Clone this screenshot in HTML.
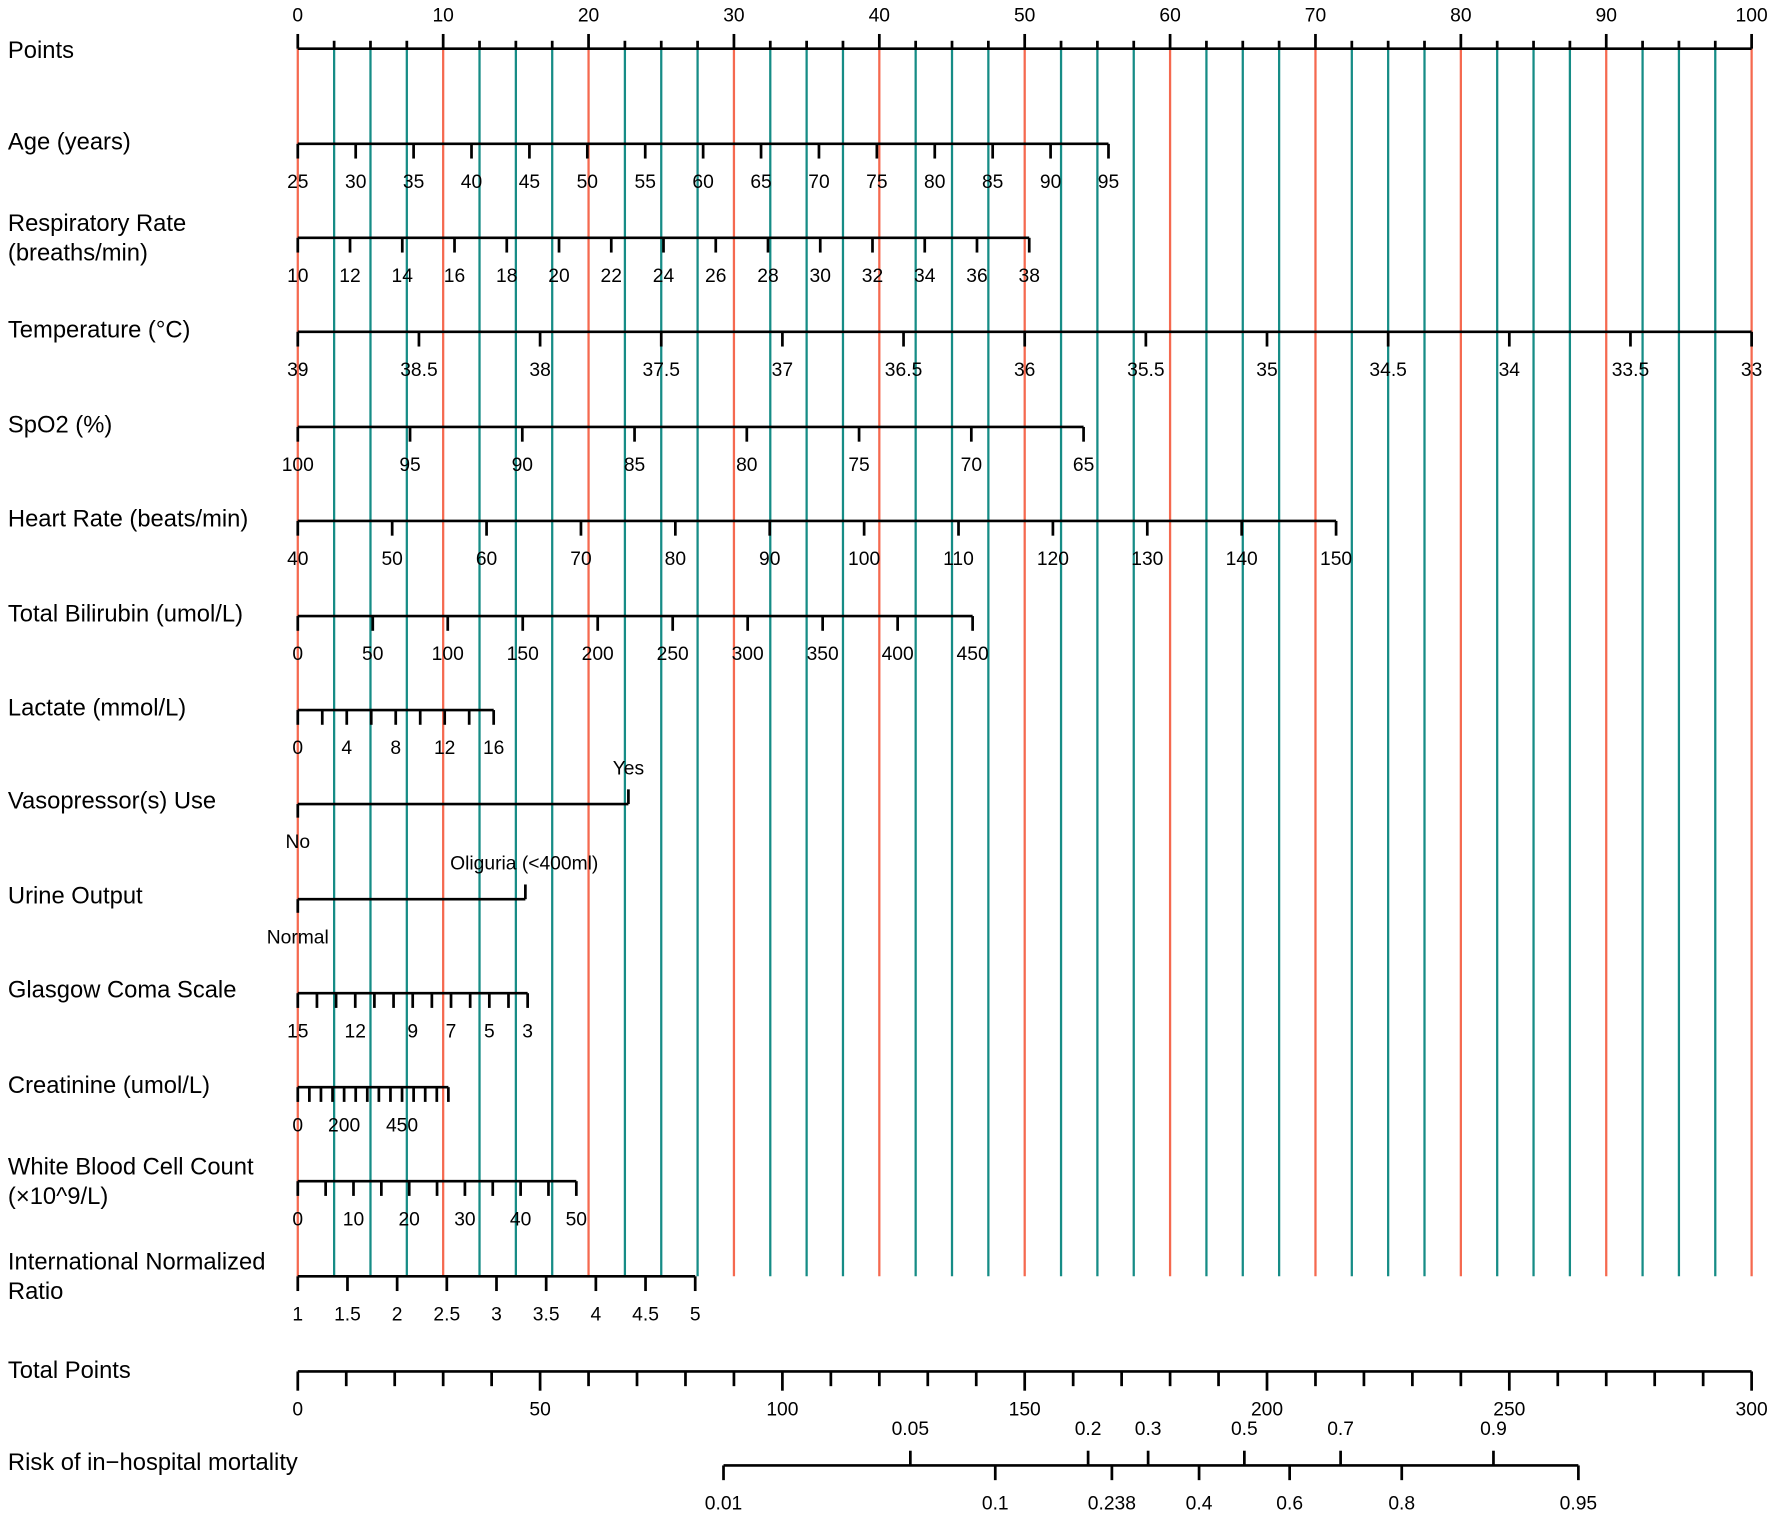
<!DOCTYPE html>
<html><head><meta charset="utf-8"><style>
html,body{margin:0;padding:0;background:#fff;}
svg{display:block;}
text{font-family:"Liberation Sans",Arial,sans-serif;fill:#000;}
</style></head><body>
<svg id="s" width="1772" height="1513" viewBox="0 0 1565 1336" preserveAspectRatio="none" xmlns="http://www.w3.org/2000/svg"></svg>
<script>
var s=document.getElementById('s'),h='';
function L(x1,y1,x2,y2,c,w){h+='<line x1="'+x1+'" y1="'+y1+'" x2="'+x2+'" y2="'+y2+'" stroke="'+(c||'#000')+'" stroke-width="'+(w||2.4)+'"/>';}
function T(x,y,t,sz,anc){h+='<text x="'+x+'" y="'+y+'" font-size="'+(sz||17)+'" text-anchor="'+(anc||'middle')+'">'+t+'</text>';}
var X0=263,X1=1547,PP=(X1-X0)/100;
for(var i=0;i<=40;i++){var x=X0+i*2.5*PP;L(x,43,x,1127,(i%4==0)?'#F5694F':'#168C86',2);}
L(X0,43,X1,43);
for(var i=0;i<=40;i++){var x=X0+i*2.5*PP;L(x,43,x,(i%4==0)?30:36);}
for(var i=0;i<=10;i++)T(X0+i*10*PP,19,String(i*10),17);
function lab(y,lines){for(var k=0;k<lines.length;k++)T(7,y+13+k*26,lines[k],21,'start');}
lab(38,['Points']);
function axis(y,v0,v1,xa,xb,ticks,labels){
  var f=function(v){return xa+(v-v0)/(v1-v0)*(xb-xa);};
  L(xa,y,xb,y);
  ticks.forEach(function(v){L(f(v),y,f(v),y+13);});
  labels.forEach(function(v){T(f(v),y+39,String(v),17);});
}
function rng(a,b,st){var r=[];for(var v=a;st>0?v<=b+1e-9:v>=b-1e-9;v+=st)r.push(Math.round(v*1000)/1000);return r;}
lab(119,['Age (years)']);
axis(127,25,95,263,979,rng(25,95,5),rng(25,95,5));
lab(191,['Respiratory Rate','(breaths/min)']);
axis(210,10,38,263,909,rng(10,38,2),rng(10,38,2));
lab(285,['Temperature (°C)']);
axis(293,39,33,263,1547,rng(39,33,-0.5),rng(39,33,-0.5));
lab(369,['SpO2 (%)']);
axis(377,100,65,263,957,rng(100,65,-5),rng(100,65,-5));
lab(452,['Heart Rate (beats/min)']);
axis(460,40,150,263,1180,rng(40,150,10),rng(40,150,10));
lab(536,['Total Bilirubin (umol/L)']);
axis(544,0,450,263,859,rng(0,450,50),rng(0,450,50));
lab(619,['Lactate (mmol/L)']);
axis(627,0,16,263,436,rng(0,16,2),rng(0,16,4));
lab(701,['Vasopressor(s) Use']);
L(263,710,555,710);L(263,710,263,722);L(555,710,555,697);
T(263,749,'No',17);T(555,684,'Yes',17);
lab(785,['Urine Output']);
L(263,794,464,794);L(263,794,263,806);L(464,794,464,781);
T(263,833,'Normal',17);T(463,768,'Oliguria (&lt;400ml)',17);
lab(868,['Glasgow Coma Scale']);
axis(877,15,3,263,466,rng(15,3,-1),[15,12,9,7,5,3]);
lab(952,['Creatinine (umol/L)']);
axis(960,0,650,263,396,rng(0,650,50),[0,200,450]);
lab(1024,['White Blood Cell Count','(×10^9/L)']);
axis(1043,0,50,263,509,rng(0,50,5),rng(0,50,10));
lab(1108,['International Normalized','Ratio']);
axis(1127,1,5,263,614,rng(1,5,0.5),rng(1,5,0.5));
lab(1204,['Total Points']);
L(263,1211,1547,1211);
for(var i=0;i<=30;i++){var x=263+i*10*(1284/300);L(x,1211,x,(i%5==0)?1228:1224);}
for(var i=0;i<=6;i++)T(263+i*50*(1284/300),1250,String(i*50),17);
lab(1285,['Risk of in\u2212hospital mortality']);
L(639,1294,1394,1294);
[[0.01,639],[0.1,879],[0.238,982],[0.4,1059],[0.6,1139],[0.8,1238],[0.95,1394]].forEach(function(a){L(a[1],1294,a[1],1307);T(a[1],1333,String(a[0]),17);});
[[0.05,804],[0.2,961],[0.3,1014],[0.5,1099],[0.7,1184],[0.9,1319]].forEach(function(a){L(a[1],1294,a[1],1281);T(a[1],1267,String(a[0]),17);});
s.innerHTML=h;
</script>
</body></html>
